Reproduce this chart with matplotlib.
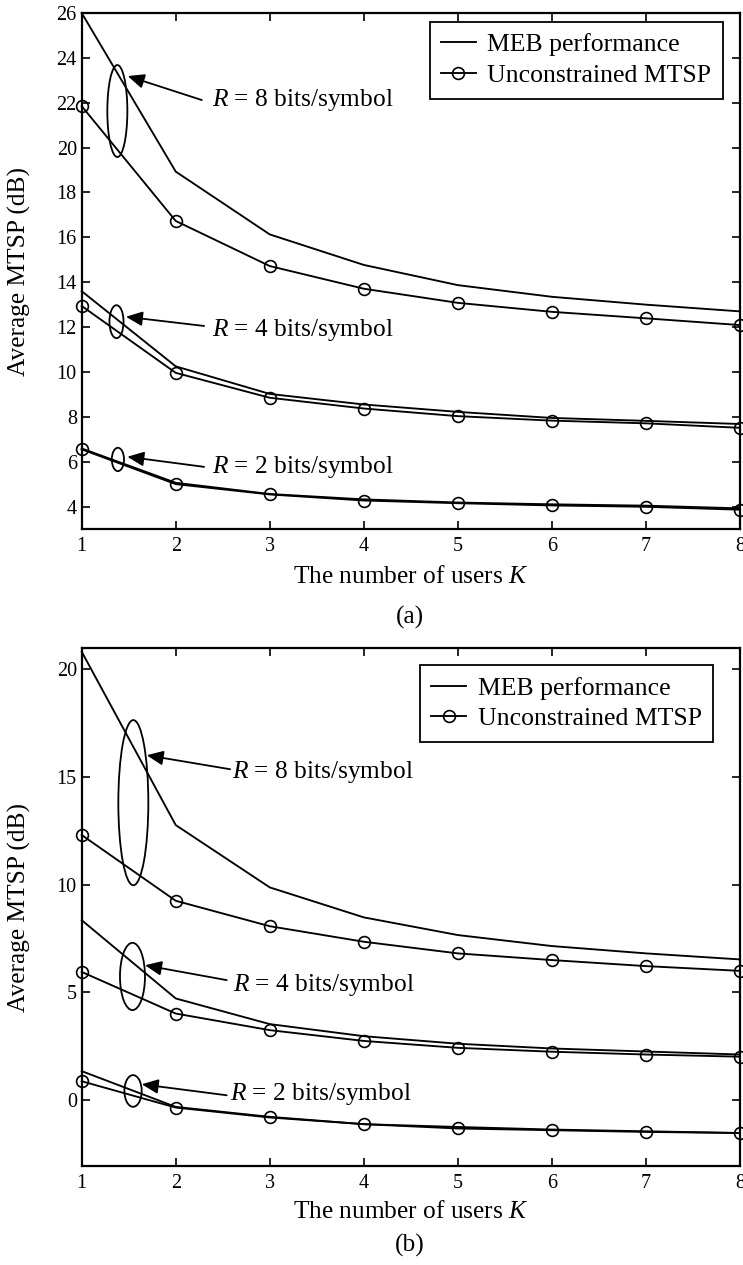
import matplotlib
matplotlib.use("Agg")
import matplotlib.pyplot as plt
from matplotlib.patches import Ellipse

plt.rcParams['font.family'] = ['Liberation Serif', 'DejaVu Serif']
plt.rcParams['mathtext.fontset'] = 'custom'
plt.rcParams['mathtext.rm'] = 'Liberation Serif'
plt.rcParams['mathtext.it'] = 'Liberation Serif:italic'

# ---------------- data ----------------
K = [1, 2, 3, 4, 5, 6, 7, 8]

# panel (a)
meb8_a = [26.0, 18.93, 16.13, 14.77, 13.87, 13.35, 13.0, 12.7]
unc8_a = [21.85, 16.73, 14.72, 13.71, 13.08, 12.68, 12.39, 12.09]
meb4_a = [13.6, 10.25, 9.02, 8.55, 8.22, 7.95, 7.82, 7.68]
unc4_a = [12.94, 9.96, 8.85, 8.37, 8.03, 7.83, 7.71, 7.51]
meb2_a = [6.59, 5.06, 4.56, 4.32, 4.18, 4.1, 4.04, 3.92]
unc2_a = [6.55, 5.0, 4.54, 4.27, 4.15, 4.05, 3.99, 3.86]

# panel (b)
meb8_b = [20.8, 12.76, 9.87, 8.48, 7.66, 7.15, 6.81, 6.53]
unc8_b = [12.3, 9.25, 8.07, 7.35, 6.81, 6.5, 6.22, 6.0]
meb4_b = [8.35, 4.72, 3.53, 2.97, 2.62, 2.4, 2.26, 2.12]
unc4_b = [5.95, 4.02, 3.25, 2.75, 2.43, 2.25, 2.12, 2.02]
meb2_b = [1.35, -0.31, -0.77, -1.11, -1.24, -1.36, -1.44, -1.52]
unc2_b = [0.88, -0.34, -0.8, -1.11, -1.31, -1.39, -1.47, -1.52]

legend_labels = ['MEB performance', 'Unconstrained MTSP']
rate_labels = ['$R$ = 8 bits/symbol', '$R$ = 4 bits/symbol', '$R$ = 2 bits/symbol']
xlabel = 'The number of users $K$'
ylabel = 'Average MTSP (dB)'
yticks_a = [4, 6, 8, 10, 12, 14, 16, 18, 20, 22, 24, 26]
yticks_b = [0, 5, 10, 15, 20]

# ---------------- figure ----------------
fig = plt.figure(figsize=(7.43, 12.65), dpi=100)
ax_a = fig.add_axes([0.10996, 0.58182, 0.886, 0.4079])
ax_b = fig.add_axes([0.10996, 0.07826, 0.886, 0.4091])

LW = 1.35
MS = 8.5
TICK_FS = 14.5
TEXT_FS = 18.3


def draw_panel(ax, series, ylim, yticks, ellipses, arrows, texts, leg_anchor):
    h_meb = h_unc = None
    for meb, unc in series:
        h_meb, = ax.plot(K, meb, '-', color='k', lw=LW, clip_on=False)
        h_unc, = ax.plot(K, unc, '-o', color='k', lw=LW, ms=MS, mfc='none',
                         mew=1.2, clip_on=False)
    ax.set_xlim(1, 8)
    ax.set_ylim(*ylim)
    ax.set_xticks(K)
    ax.set_yticks(yticks)
    ax.tick_params(direction='in', length=6, width=1.2, top=True, right=True,
                   labelsize=TICK_FS)
    ax.tick_params(axis='x', pad=5.5)
    ax.tick_params(axis='y', pad=3.5)
    for s in ax.spines.values():
        s.set_linewidth(1.6)
    for (cx, cy, w, h) in ellipses:
        ax.add_patch(Ellipse((cx, cy), w, h, fill=False, lw=1.3, color='k'))
    for (head, tail) in arrows:
        ax.annotate('', xy=head, xytext=tail,
                    arrowprops=dict(arrowstyle='-|>,head_length=0.5,head_width=0.22',
                                    color='k', lw=1.3, shrinkA=0, shrinkB=0,
                                    mutation_scale=20))
    for (tx, ty), lab in zip(texts, rate_labels):
        ax.text(tx, ty, lab, fontsize=TEXT_FS, ha='left', va='baseline')
    leg = ax.legend([h_meb, h_unc], legend_labels, loc='upper right',
                    bbox_to_anchor=leg_anchor, borderaxespad=0,
                    fontsize=18.5, frameon=True, fancybox=False,
                    edgecolor='k', framealpha=1, handlelength=1.35,
                    handletextpad=0.45, borderpad=0.45, labelspacing=0.3,
                    markerscale=1.0)
    leg.get_frame().set_linewidth(1.3)
    ax.set_ylabel(ylabel, fontsize=TEXT_FS)
    ax.set_xlabel(xlabel, fontsize=TEXT_FS)


draw_panel(ax_a,
           [(meb8_a, unc8_a), (meb4_a, unc4_a), (meb2_a, unc2_a)],
           (3, 26), yticks_a,
           ellipses=[(1.379, 21.63, 0.213, 4.1), (1.37, 12.24, 0.15, 1.47),
                     (1.385, 6.1, 0.13, 1.04)],
           arrows=[((1.489, 23.19), (2.277, 22.12)),
                   ((1.47, 12.46), (2.302, 12.05)),
                   ((1.485, 6.22), (2.302, 5.77))],
           texts=[(2.386, 21.85), (2.386, 11.6), (2.386, 5.48)],
           leg_anchor=(0.974, 0.983))

draw_panel(ax_b,
           [(meb8_b, unc8_b), (meb4_b, unc4_b), (meb2_b, unc2_b)],
           (-3.05, 20.95), yticks_b,
           ellipses=[(1.549, 13.8, 0.319, 7.66), (1.54, 5.74, 0.266, 3.12),
                     (1.546, 0.43, 0.184, 1.47)],
           arrows=[((1.691, 16.0), (2.578, 15.35)),
                   ((1.673, 6.26), (2.542, 5.57)),
                   ((1.638, 0.74), (2.542, 0.23))],
           texts=[(2.596, 14.93), (2.613, 5.07), (2.578, 0.0)],
           leg_anchor=(0.9594, 0.968))

ax_a.xaxis.set_label_coords(0.5, -0.072)
ax_b.xaxis.set_label_coords(0.5, -0.068)
ax_a.yaxis.set_label_coords(-0.077, 0.5)
ax_b.yaxis.set_label_coords(-0.077, 0.5)

fig.text(0.552, 0.5115, '(a)', fontsize=TEXT_FS, ha='center', va='center')
fig.text(0.552, 0.0158, '(b)', fontsize=TEXT_FS, ha='center', va='center')

fig.savefig('out.png', dpi=100)
